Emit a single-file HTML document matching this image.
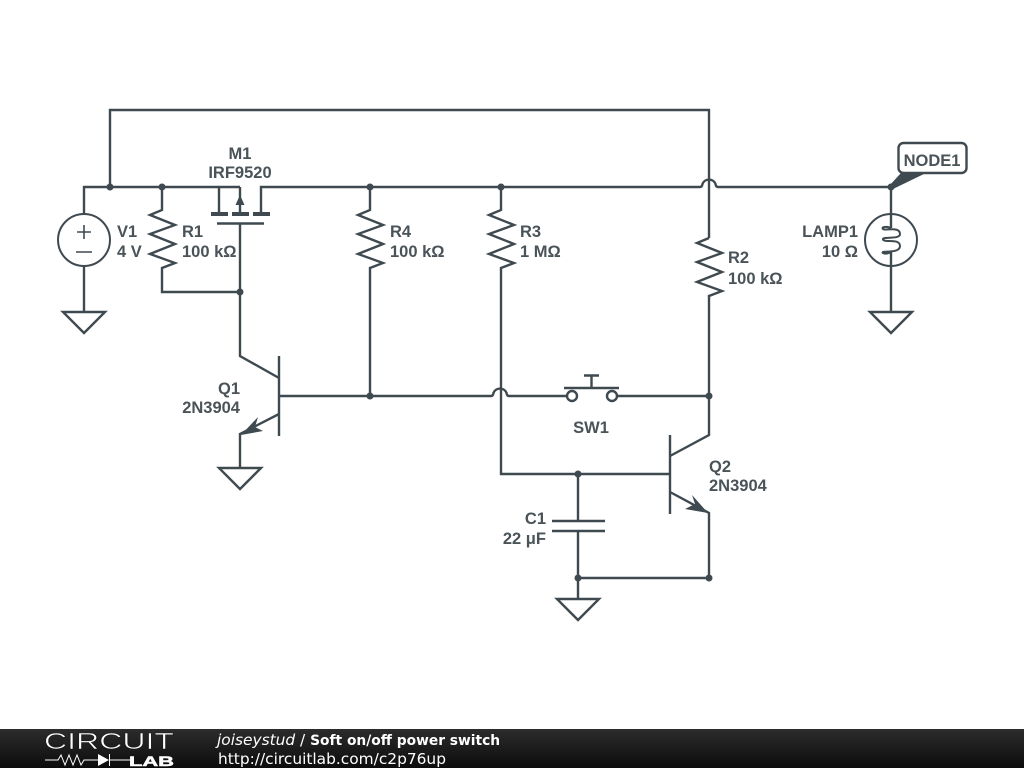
<!DOCTYPE html>
<html><head><meta charset="utf-8"><style>
html,body{margin:0;padding:0;background:#fff}
svg{display:block}
text{font-family:"Liberation Sans",sans-serif;font-size:16.5px;font-weight:bold;fill:#4a5358}
.f{font-family:"DejaVu Sans",sans-serif;font-size:15.4px;font-weight:normal;fill:#fff;stroke:none}
</style></head><body>
<svg width="1024" height="768" viewBox="0 0 1024 768" xmlns="http://www.w3.org/2000/svg">
<defs><linearGradient id="g" x1="0" y1="0" x2="0" y2="1"><stop offset="0" stop-color="#2c2c2c"/><stop offset="1" stop-color="#0c0c0c"/></linearGradient></defs>
<g fill="none" stroke="#3f4a50" stroke-width="2.400">
<path d="M84 214V187H219V212M240 187H219M261 212V187H700Q702 187 702.500 184A7 7 0 0 1 715.500 184Q716 187 718 187H891"/>
<path d="M110 187V110H709V238"/>
<path d="M84 266V312"/>
<circle cx="84" cy="240" r="26" stroke-width="2"/>
<path d="M84 225V239M77 232H91M76 252H92" stroke-width="1.600"/>
<path d="M63 312H105L84 333Z"/>
<path d="M162 187V210L150 215L175 225L150 234L175 244L150 254L175 263L162 268V292H240"/>
<path d="M240 187V212"/>
<path d="M240 224V356L279 378"/>
<path d="M217 223.500H264"/>
<path d="M279 356V436M279 396H491Q493 396 493.500 393A7 7 0 0 1 506.500 393Q507 396 509 396H566M618 396H709"/>
<path d="M279 414L240 434V468"/>
<path d="M219 468H261L240 489Z"/>
<path d="M370 187V210L358 215L383 225L358 234L383 244L358 254L383 263L370 268V396"/>
<path d="M501 187V210L489 215L514 225L489 234L514 244L489 254L514 263L501 268V474H670"/>
<path d="M709 238L697 243L722 253L697 262L722 272L697 282L722 291L709 296V396"/>
<circle cx="572" cy="396" r="5"/><circle cx="612" cy="396" r="5"/>
<path d="M564 388H619M591.500 388V376M584 375.500H599"/>
<path d="M670 435V514M670 456L709 435V396M670 492L709 513V578H578"/>
<path d="M578 474V521M552 521H605M552 531H605M578 531V599"/>
<path d="M557 599H599L578 620Z"/>
<circle cx="891" cy="240" r="26" stroke-width="2"/>
<path d="M891 187V228M891 252V312"/>
<path stroke-width="2" d="M891 228C886 226 881 227 883 229C885 231 900 226 900 234C900 240 882 236 883 239.500C884 243 900 238 900 246C900 253 886 251 883 252C881 253 886 255 891 252"/>
<path d="M870 312H912L891 333Z"/>
<rect x="898.500" y="143" width="68" height="30" rx="5" fill="#fff"/>
</g>
<g fill="#3f4a50">
<rect x="211" y="212" width="17" height="4"/><rect x="232" y="212" width="17" height="4"/><rect x="253" y="212" width="17" height="4"/>
<path d="M240 195L235.500 205H244.500Z"/>
<path d="M889 186L901 173H926L893 189Z"/>
<path d="M241 435L258 417L255 427L263 431Z"/>
<path d="M708 513L692 495L695 504L685 509Z"/>
<circle cx="110" cy="187" r="3.500"/><circle cx="162" cy="187" r="3.500"/><circle cx="370" cy="187" r="3.500"/><circle cx="501" cy="187" r="3.500"/><circle cx="891" cy="187" r="3.500"/>
<circle cx="240" cy="292" r="3.500"/><circle cx="370" cy="396" r="3.500"/><circle cx="709" cy="396" r="3.500"/><circle cx="578" cy="474" r="3.500"/><circle cx="578" cy="578" r="3.500"/><circle cx="709" cy="578" r="3.500"/>
</g>
<text x="240" y="159" text-anchor="middle">M1</text>
<text x="240" y="178" text-anchor="middle">IRF9520</text>
<text x="117" y="237">V1</text><text x="117" y="257">4 V</text>
<text x="182" y="237">R1</text><text x="182" y="257">100 kΩ</text>
<text x="390" y="237">R4</text><text x="390" y="257">100 kΩ</text>
<text x="520" y="237">R3</text><text x="520" y="257">1 MΩ</text>
<text x="728" y="263">R2</text><text x="728" y="284">100 kΩ</text>
<text x="858" y="237" text-anchor="end">LAMP1</text><text x="858" y="257" text-anchor="end">10 Ω</text>
<text x="932" y="166" text-anchor="middle">NODE1</text>
<text x="240" y="394" text-anchor="end">Q1</text><text x="240" y="413" text-anchor="end">2N3904</text>
<text x="591" y="433" text-anchor="middle">SW1</text>
<text x="709" y="472">Q2</text><text x="709" y="491">2N3904</text>
<text x="546" y="524" text-anchor="end">C1</text><text x="546" y="544" text-anchor="end">22 μF</text>
<rect x="0" y="729" width="1024" height="39" fill="url(#g)"/>
<text x="44" y="749" textLength="130" lengthAdjust="spacingAndGlyphs" style="font-size:23px;font-weight:normal;fill:#fff;stroke:#1c1c1c;stroke-width:.6">CIRCUIT</text>
<text x="129" y="766" textLength="45" lengthAdjust="spacingAndGlyphs" style="font-size:14px;font-weight:bold;fill:#fff;stroke:#fff;stroke-width:.5">LAB</text>
<path d="M45 760H58L61 755L65 765L69 755L73 765L77 755L81 765L84 760H100M109 760H130M109.500 754V766" fill="none" stroke="#fff" stroke-width="1"/>
<path d="M98 754V766L109 760Z" fill="#fff"/>
<text class="f" x="217" y="745"><tspan font-style="italic">joiseystud</tspan> / <tspan font-weight="bold" style="font-size:13.8px">Soft on/off power switch</tspan></text>
<text class="f" x="218" y="764">http://circuitlab.com/c2p76up</text>
</svg>
</body></html>
